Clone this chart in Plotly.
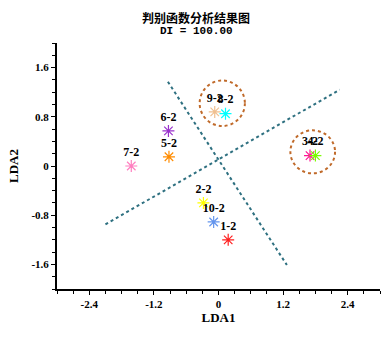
import plotly.graph_objects as go

labels = ["1-2", "2-2", "3-2", "4-2", "5-2", "6-2", "7-2", "8-2", "9-2", "10-2"]
lda1 = [0.18, -0.28, 1.70, 1.80, -0.92, -0.93, -1.62, 0.13, -0.07, -0.09]
lda2 = [-1.20, -0.60, 0.17, 0.17, 0.15, 0.57, 0.00, 0.85, 0.88, -0.91]
colors = ["#ff2020", "#ffff00", "#ff1493", "#7cfc00", "#ff8c00", "#9932cc",
          "#ff7fc0", "#00ffff", "#f0c090", "#6495ed"]

x_tickvals = [-2.4, -1.2, 0, 1.2, 2.4]
x_ticktext = ["-2.4", "-1.2", "0", "1.2", "2.4"]
y_tickvals = [-1.6, -0.8, 0, 0.8, 1.6]
y_ticktext = ["-1.6", "-0.8", "0", "0.8", "1.6"]

title_main = "判别函数分析结果图"
title_sub = "DI = 100.00"

# discriminant boundary lines (x0, y0, x1, y1)
line1 = [-2.10, -0.95, 2.25, 1.24]
line2 = [-0.94, 1.37, 1.27, -1.61]

# group circles (cx, cy, rx, ry)
circle1 = [0.07, 1.02, 0.42, 0.37]
circle2 = [1.75, 0.23, 0.415, 0.35]

fig = go.Figure()

line_color = "#2e7080"
for ln in (line1, line2):
    fig.add_trace(go.Scatter(x=[ln[0], ln[2]], y=[ln[1], ln[3]], mode="lines",
                             line=dict(color=line_color, width=2, dash="dot"),
                             showlegend=False, hoverinfo="skip"))

for c in (circle1, circle2):
    fig.add_shape(type="circle", xref="x", yref="y",
                  x0=c[0] - c[2], x1=c[0] + c[2], y0=c[1] - c[3], y1=c[1] + c[3],
                  line=dict(color="#c06a2a", width=2, dash="dot"))

fig.add_trace(go.Scatter(
    x=lda1, y=lda2, mode="markers+text", text=labels,
    textposition="top center",
    textfont=dict(family="Liberation Serif", size=12, color="black", weight="bold"),
    marker=dict(symbol="asterisk-open", size=10, color=colors,
                line=dict(color=colors, width=1.2)),
    showlegend=False))

fig.add_annotation(text=title_main, xref="paper", yref="paper", x=0.431, y=1.102,
                   xanchor="center", yanchor="middle", showarrow=False,
                   font=dict(family="Noto Sans CJK SC", size=12, color="black", weight="bold"))
fig.add_annotation(text=title_sub, xref="paper", yref="paper", x=0.431, y=1.049,
                   xanchor="center", yanchor="middle", showarrow=False,
                   font=dict(family="Liberation Mono", size=11, color="black", weight="bold"))

axis_font = dict(family="Liberation Serif", size=11, color="black", weight="bold")
fig.update_layout(
    width=392, height=340,
    margin=dict(l=55, r=12, t=43, b=51),
    paper_bgcolor="white", plot_bgcolor="white",
    xaxis=dict(range=[-3, 3], tickvals=x_tickvals, ticktext=x_ticktext,
               showgrid=False, zeroline=False, showline=True, linecolor="black",
               linewidth=2, ticks="outside", ticklen=4, tickcolor="black",
               minor=dict(dtick=0.3, tick0=0, ticks="outside", ticklen=3, tickcolor="black"),
               tickfont=axis_font,
               title=dict(text="LDA1", font=dict(family="Liberation Serif", size=13,
                                                  color="black", weight="bold"), standoff=4)),
    yaxis=dict(range=[-2, 2], tickvals=y_tickvals, ticktext=y_ticktext,
               showgrid=False, zeroline=False, showline=True, linecolor="black",
               linewidth=2, ticks="outside", ticklen=4, tickcolor="black",
               minor=dict(dtick=0.2, tick0=0, ticks="outside", ticklen=3, tickcolor="black"),
               tickfont=axis_font,
               title=dict(text="LDA2", font=dict(family="Liberation Serif", size=13,
                                                  color="black", weight="bold"), standoff=10)),
)

fig.write_html("out.html")
